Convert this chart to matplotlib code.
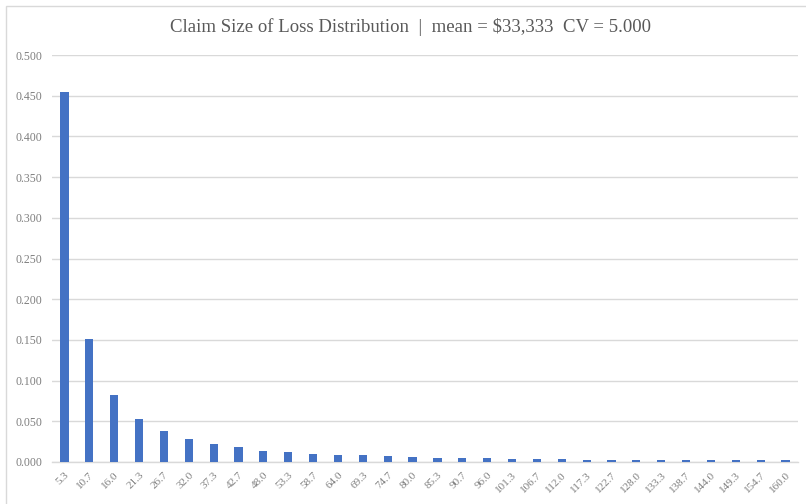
import matplotlib
matplotlib.use("Agg")
import matplotlib.pyplot as plt
from matplotlib.patches import Rectangle

categories = ["5.3", "10.7", "16.0", "21.3", "26.7", "32.0", "37.3", "42.7", "48.0", "53.3",
              "58.7", "64.0", "69.3", "74.7", "80.0", "85.3", "90.7", "96.0", "101.3", "106.7",
              "112.0", "117.3", "122.7", "128.0", "133.3", "138.7", "144.0", "149.3", "154.7", "160.0"]
probabilities = [0.455, 0.151, 0.082, 0.053, 0.038, 0.028, 0.022, 0.018, 0.014, 0.012,
                 0.010, 0.009, 0.008, 0.007, 0.006, 0.005, 0.005, 0.0045, 0.004, 0.0035,
                 0.0033, 0.003, 0.003, 0.0025, 0.0025, 0.0023, 0.0022, 0.002, 0.002, 0.002]
yticks = [0.0, 0.05, 0.1, 0.15, 0.2, 0.25, 0.3, 0.35, 0.4, 0.45, 0.5]
title = "Claim Size of Loss Distribution  |  mean = $33,333  CV = 5.000"

serif = ["Liberation Serif", "DejaVu Serif"]
label_color = "#7f7f7f"
grid_color = "#d9d9d9"

fig = plt.figure(figsize=(8.06, 5.04), dpi=100)
ax = fig.add_axes([52/806, 42/504, (798-52)/806, (462-55)/504])

x = list(range(len(categories)))
ax.bar(x, probabilities, width=0.33, color="#4472C4", zorder=3)

ax.set_xlim(-0.5, len(categories) - 0.5)
ax.set_ylim(0, 0.5)
ax.set_yticks(yticks)
ax.set_yticklabels([f"{v:.3f}" for v in yticks], fontfamily=serif, fontsize=8.5, color=label_color)
ax.set_xticks(x)
ax.set_xticklabels(categories, rotation=45, ha="right", rotation_mode="anchor",
                   fontfamily=serif, fontsize=8, color=label_color)
ax.tick_params(axis="both", length=0)
ax.tick_params(axis="y", pad=7)
ax.tick_params(axis="x", pad=6)
ax.yaxis.grid(True, color=grid_color, linewidth=1, zorder=0)
for s in ["top", "right", "left"]:
    ax.spines[s].set_visible(False)
ax.spines["bottom"].set_color(grid_color)
ax.spines["bottom"].set_linewidth(1)

fig.text(410/806, 1 - 27/504, title, ha="center", va="center",
         fontfamily=serif, fontsize=13.5, color="#595959")

fig.patches.append(Rectangle((6/806, -0.02), 1.0, 1 - 6/504 + 0.02, transform=fig.transFigure,
                             fill=False, edgecolor=grid_color, linewidth=1))

fig.savefig("out.png", dpi=100, facecolor="white")
